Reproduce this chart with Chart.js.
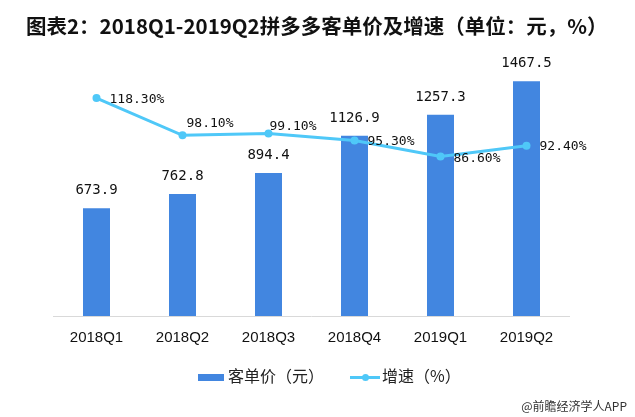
<!DOCTYPE html>
<html>
<head>
<meta charset="utf-8">
<script src="https://cdn.jsdelivr.net/npm/chart.js@4"></script>
<style>
  html, body { margin: 0; padding: 0; background: #fff; }
  #wrap { position: relative; width: 635px; height: 417px; overflow: hidden; }
  #chart { position: absolute; left: 0; top: 0; }
  #title {
    position: absolute; left: 26px; top: 10px; white-space: nowrap;
    font: bold 20.5px "Noto Sans CJK SC", sans-serif; color: #111;
  }
  #legend {
    position: absolute; left: 198px; top: 360px; white-space: nowrap;
    font: 16px "Noto Sans CJK SC", sans-serif; color: #222;
  }
  #legend .item { display: inline-block; vertical-align: middle; }
  .swatch-bar { display: inline-block; width: 26px; height: 7px; background: #4286E0; vertical-align: middle; margin-right: 4px; }
  .swatch-line { display: inline-block; position: relative; width: 30px; height: 3px; background: #4FC8F8; vertical-align: middle; margin: 0 2px 0 26px; }
  .swatch-line i { position: absolute; left: 12px; top: -2px; width: 7px; height: 7px; border-radius: 50%; background: #4FC8F8; }
  #source {
    position: absolute; right: 8px; top: 397px; white-space: nowrap;
    font: 12px "Noto Sans CJK SC", sans-serif; color: #333;
  }
</style>
</head>
<body>
<div id="wrap">
  <canvas id="chart" width="635" height="417"></canvas>
  <div id="title">图表2：2018Q1-2019Q2拼多多客单价及增速（单位：元，%）</div>
  <div id="legend">
    <span class="item"><span class="swatch-bar"></span>客单价（元）</span><span class="item"><span class="swatch-line"><i></i></span>增速（%）</span>
  </div>
  <div id="source">@前瞻经济学人APP</div>
</div>
<script>
// ===== data =====
const QUARTERS = ['2018Q1', '2018Q2', '2018Q3', '2018Q4', '2019Q1', '2019Q2'];
const PRICE = [673.9, 762.8, 894.4, 1126.9, 1257.3, 1467.5];
const GROWTH = [118.3, 98.1, 99.1, 95.3, 86.6, 92.4];

const BAR_COLOR = '#4286E0';
const LINE_COLOR = '#4FC8F8';

// where each growth label sits relative to its point (dx, dy)
const GROWTH_LABEL_OFFSETS = [[13, 2], [4, -12], [1, -7], [13, 1], [13, 2], [13, 1]];

// Value labels drawn after datasets
const valueLabels = {
  id: 'valueLabels',
  afterDatasetsDraw(chart) {
    const ctx = chart.ctx;
    ctx.save();
    ctx.fillStyle = '#111';
    ctx.textBaseline = 'middle';

    // bar values (dataset 0)
    ctx.font = '14px "DejaVu Sans Mono", monospace';
    ctx.textAlign = 'center';
    chart.getDatasetMeta(0).data.forEach((bar, i) => {
      ctx.fillText(PRICE[i].toFixed(1), bar.x, bar.y - 17.5);
    });

    // growth values (dataset 1)
    ctx.font = '13px "DejaVu Sans Mono", monospace';
    ctx.textAlign = 'left';
    chart.getDatasetMeta(1).data.forEach((pt, i) => {
      const [dx, dy] = GROWTH_LABEL_OFFSETS[i];
      ctx.fillText(GROWTH[i].toFixed(2) + '%', pt.x + dx, pt.y + dy);
    });
    ctx.restore();
  }
};

new Chart(document.getElementById('chart'), {
  data: {
    labels: QUARTERS,
    datasets: [
      {
        type: 'bar',
        label: '客单价（元）',
        data: PRICE,
        yAxisID: 'y',
        backgroundColor: BAR_COLOR,
        categoryPercentage: 1,
        barPercentage: 0.314,
        order: 1
      },
      {
        type: 'line',
        label: '增速（%）',
        data: GROWTH,
        yAxisID: 'y1',
        borderColor: LINE_COLOR,
        backgroundColor: LINE_COLOR,
        borderWidth: 3,
        pointRadius: 4,
        pointBorderWidth: 0,
        tension: 0,
        order: 0
      }
    ]
  },
  options: {
    responsive: false,
    animation: false,
    layout: { padding: { left: 53.5, right: 65.5, top: 60, bottom: 67 } },
    plugins: {
      legend: { display: false },
      tooltip: { enabled: false }
    },
    scales: {
      x: {
        grid: { display: false },
        border: { display: true, color: '#d9d9d9', width: 1 },
        ticks: {
          color: '#111',
          padding: 5,
          font: { family: '"Liberation Sans", Arial, sans-serif', size: 15 }
        },
        afterFit: s => { s.height = 34; }
      },
      y: { display: false, min: 0, max: 1600 },
      y1: { display: false, min: 0, max: 139 }
    }
  },
  plugins: [valueLabels]
});
</script>
</body>
</html>
